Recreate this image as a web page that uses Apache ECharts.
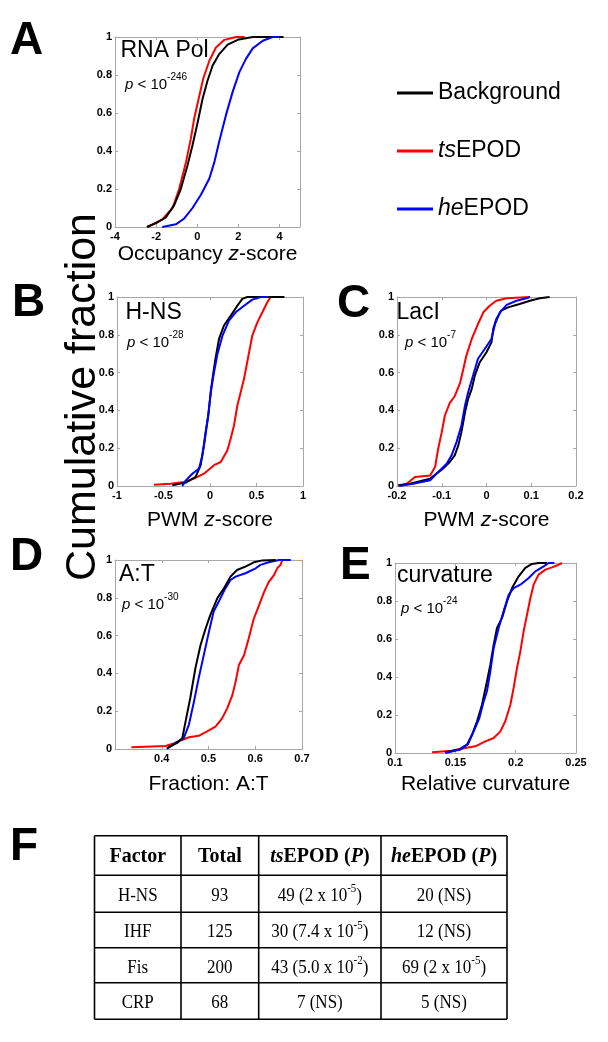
<!DOCTYPE html>
<html><head><meta charset="utf-8">
<script src="https://cdn.jsdelivr.net/npm/echarts@6/dist/echarts.min.js"></script>
<style>html,body{margin:0;padding:0;background:#fff}#c{width:608px;height:1042px}</style>
</head><body><div id="c"></div>
<script>
// ---------------- DATA ----------------
const seriesNames = ['Background', 'tsEPOD', 'heEPOD'];

// Panel A : RNA Pol, occupancy z-score
const polBackground = [[-2.45,0],[-2.0,0.02],[-1.53,0.05],[-1.12,0.115],[-0.8,0.2],[-0.47,0.325],[-0.23,0.43],[0.02,0.55],[0.26,0.675],[0.5,0.77],[0.75,0.85],[1.07,0.91],[1.48,0.96],[1.97,0.985],[2.7,1.0],[4.2,1.0]];
const polTs = [[-2.42,0],[-1.7,0.04],[-1.2,0.1],[-0.88,0.2],[-0.55,0.34],[-0.31,0.465],[-0.15,0.57],[0.07,0.675],[0.29,0.78],[0.59,0.875],[0.91,0.945],[1.32,0.985],[1.9,1.0],[2.3,1.0]];
const polHe = [[-1.7,0],[-1.04,0.014],[-0.63,0.045],[-0.23,0.1],[0.18,0.17],[0.59,0.255],[0.83,0.34],[1.07,0.45],[1.4,0.59],[1.72,0.71],[2.05,0.815],[2.37,0.885],[2.7,0.94],[3.19,0.98],[3.67,1.0],[4.0,1.0]];

// Panel B : H-NS, PWM z-score
const hnsBackground = [[-0.405,0.004],[-0.26,0.018],[-0.154,0.048],[-0.1,0.11],[-0.072,0.197],[-0.047,0.285],[-0.018,0.373],[0.007,0.496],[0.036,0.6],[0.061,0.68],[0.097,0.778],[0.15,0.849],[0.222,0.9],[0.294,0.954],[0.348,0.99],[0.4,1],[0.8,1]];
const hnsTs = [[-0.602,0.007],[-0.423,0.012],[-0.28,0.021],[-0.172,0.039],[-0.065,0.065],[0.043,0.11],[0.115,0.127],[0.186,0.188],[0.222,0.25],[0.258,0.32],[0.294,0.426],[0.33,0.496],[0.366,0.567],[0.4,0.655],[0.455,0.796],[0.509,0.866],[0.563,0.919],[0.616,0.972],[0.652,1],[0.7,1]];
const hnsHe = [[-0.297,0],[-0.26,0.03],[-0.19,0.065],[-0.118,0.092],[-0.082,0.162],[-0.054,0.25],[-0.02,0.373],[0.014,0.514],[0.043,0.6],[0.079,0.697],[0.133,0.794],[0.204,0.875],[0.276,0.919],[0.366,0.954],[0.455,0.986],[0.545,1],[0.62,1]];

// Panel C : LacI, PWM z-score
const laciBackground = [[-0.197,0.004],[-0.171,0.012],[-0.149,0.025],[-0.126,0.039],[-0.112,0.065],[-0.097,0.092],[-0.082,0.127],[-0.071,0.162],[-0.063,0.215],[-0.056,0.285],[-0.048,0.39],[-0.041,0.461],[-0.033,0.514],[-0.026,0.585],[-0.015,0.655],[0,0.708],[0.011,0.76],[0.015,0.83],[0.022,0.884],[0.033,0.928],[0.048,0.945],[0.074,0.963],[0.097,0.98],[0.119,0.993],[0.141,1]];
const laciTs = [[-0.197,0],[-0.178,0.012],[-0.16,0.048],[-0.126,0.056],[-0.115,0.1],[-0.108,0.197],[-0.1,0.285],[-0.093,0.373],[-0.082,0.44],[-0.071,0.475],[-0.059,0.546],[-0.052,0.616],[-0.045,0.69],[-0.033,0.778],[-0.019,0.857],[-0.007,0.919],[0.007,0.954],[0.022,0.98],[0.045,0.993],[0.097,1]];
const laciHe = [[-0.195,0],[-0.164,0.012],[-0.126,0.03],[-0.112,0.065],[-0.089,0.118],[-0.078,0.162],[-0.067,0.232],[-0.056,0.32],[-0.048,0.426],[-0.041,0.496],[-0.03,0.585],[-0.019,0.673],[-0.004,0.725],[0.011,0.778],[0.019,0.857],[0.03,0.919],[0.045,0.958],[0.067,0.98],[0.089,0.993],[0.097,1]];

// Panel D : A:T fraction
const atBackground = [[0.411,0.005],[0.433,0.032],[0.444,0.058],[0.451,0.146],[0.461,0.27],[0.472,0.428],[0.483,0.55],[0.494,0.639],[0.504,0.71],[0.519,0.798],[0.533,0.85],[0.547,0.912],[0.561,0.947],[0.579,0.965],[0.597,0.988],[0.615,0.998],[0.644,1]];
const atTs = [[0.335,0.009],[0.365,0.012],[0.408,0.016],[0.429,0.032],[0.458,0.062],[0.479,0.07],[0.497,0.093],[0.515,0.118],[0.529,0.162],[0.54,0.215],[0.551,0.285],[0.558,0.356],[0.565,0.444],[0.576,0.496],[0.586,0.585],[0.597,0.69],[0.608,0.76],[0.619,0.831],[0.629,0.884],[0.64,0.92],[0.647,0.956],[0.654,0.974],[0.658,1]];
const atHe = [[0.411,0],[0.429,0.032],[0.447,0.058],[0.458,0.128],[0.469,0.252],[0.479,0.375],[0.49,0.498],[0.501,0.621],[0.511,0.727],[0.522,0.78],[0.536,0.85],[0.547,0.894],[0.558,0.912],[0.579,0.93],[0.601,0.956],[0.611,0.974],[0.629,0.988],[0.651,1],[0.676,1]];

// Panel E : relative curvature
const curvBackground = [[0.1417,0.004],[0.1528,0.018],[0.1597,0.044],[0.1638,0.096],[0.168,0.167],[0.1721,0.254],[0.1762,0.377],[0.179,0.465],[0.1818,0.57],[0.1845,0.658],[0.1887,0.711],[0.1928,0.798],[0.197,0.868],[0.2025,0.93],[0.208,0.974],[0.2135,0.995],[0.219,1],[0.226,1]];
const curvTs = [[0.1307,0.004],[0.1472,0.012],[0.1583,0.026],[0.1666,0.035],[0.1749,0.061],[0.1818,0.079],[0.1873,0.114],[0.1914,0.167],[0.1956,0.254],[0.1983,0.342],[0.2011,0.447],[0.2039,0.535],[0.2066,0.64],[0.2094,0.728],[0.2122,0.816],[0.2149,0.886],[0.219,0.939],[0.2246,0.965],[0.2301,0.977],[0.2356,0.991],[0.2384,1]];
const curvHe = [[0.1417,0],[0.154,0.018],[0.1605,0.047],[0.1652,0.114],[0.1699,0.184],[0.1735,0.272],[0.1762,0.325],[0.179,0.43],[0.1818,0.553],[0.1859,0.658],[0.19,0.746],[0.1942,0.833],[0.1983,0.868],[0.2039,0.886],[0.2108,0.921],[0.2163,0.956],[0.2232,0.982],[0.2273,1],[0.232,1]];

// Panel labels / texts
const panelLetters = ['A', 'B', 'C', 'D', 'E', 'F'];
const factorLabels = ['RNA Pol', 'H-NS', 'LacI', 'A:T', 'curvature'];
const pExponents = ['-246', '-28', '-7', '-30', '-24'];
const xTitles = [['Occupancy ', 'z', '-score'], ['PWM ', 'z', '-score'], ['PWM ', 'z', '-score'], ['Fraction: A:T', '', ''], ['Relative curvature', '', '']];
const yTitle = 'Cumulative fraction';
const yTicks = {min: 0, max: 1, interval: 0.2};
const xTicks = [
  {min: -4, max: 5, interval: 2},
  {min: -1, max: 1, interval: 0.5},
  {min: -0.2, max: 0.2, interval: 0.1},
  {min: 0.3, max: 0.7, interval: 0.1},
  {min: 0.1, max: 0.25, interval: 0.05}
];

// Table F
const tableHeader = ['Factor', 'Total', 'tsEPOD (P)', 'heEPOD (P)'];
const tableFactors = ['H-NS', 'IHF', 'Fis', 'CRP'];
const tableTotals = [93, 125, 200, 68];
const tsCounts = [49, 30, 43, 7];
const tsPMant = ['2', '7.4', '5.0', null];
const tsPExp = ['-5', '-5', '-2', null];
const heCounts = [20, 12, 69, 5];
const hePMant = [null, null, '2', null];
const hePExp = [null, null, '-5', null];

// ---------------- LAYOUT ----------------
const SANS = '"Liberation Sans", Arial, Helvetica, sans-serif';
const SERIF = '"Liberation Serif", "Times New Roman", serif';
const GRAY = '#a8a8a8';
const COLORS = {Background: '#000000', tsEPOD: '#ff0000', heEPOD: '#0000ff'};

const panels = [
  {grid: {left: 115, top: 37, width: 185, height: 190}, data: {Background: polBackground, tsEPOD: polTs, heEPOD: polHe},
   order: ['tsEPOD','Background','heEPOD'], showMinX: true, showMaxX: false, nameGap: 17,
   letter: [10, 41], label: [120.5, 51], p: [125, 82]},
  {grid: {left: 117, top: 297, width: 186, height: 189}, data: {Background: hnsBackground, tsEPOD: hnsTs, heEPOD: hnsHe},
   order: ['tsEPOD','Background','heEPOD'], showMinX: true, showMaxX: true, nameGap: 24,
   letter: [12, 303.5], label: [125.5, 313], p: [127, 340]},
  {grid: {left: 397, top: 297, width: 179, height: 189}, data: {Background: laciBackground, tsEPOD: laciTs, heEPOD: laciHe},
   order: ['tsEPOD','Background','heEPOD'], showMinX: true, showMaxX: true, nameGap: 24,
   letter: [337, 304.5], label: [396.5, 313], p: [405, 340]},
  {grid: {left: 115, top: 560, width: 187, height: 189}, data: {Background: atBackground, tsEPOD: atTs, heEPOD: atHe},
   order: ['tsEPOD','heEPOD','Background'], showMinX: false, showMaxX: true, nameGap: 25,
   letter: [10, 557.5], label: [119, 575], p: [122, 602]},
  {grid: {left: 395, top: 563, width: 181, height: 190}, data: {Background: curvBackground, tsEPOD: curvTs, heEPOD: curvHe},
   order: ['tsEPOD','Background','heEPOD'], showMinX: true, showMaxX: true, nameGap: 21,
   letter: [340, 566.5], label: [397, 576], p: [401, 606]}
];

const grids = [], xAxes = [], yAxes = [], series = [], graphics = [];
const tickStyle = {inside: true, length: 3, lineStyle: {color: GRAY, width: 1}};
const lineStyleAx = {onZero: false, lineStyle: {color: GRAY, width: 1}};
const labelStyle = {color: '#000', fontWeight: 'bold', fontSize: 11, fontFamily: SANS};

panels.forEach((p, i) => {
  grids.push(Object.assign({containLabel: false, show: false}, p.grid));
  const xt = xTicks[i];
  const t = xTitles[i];
  const nm = t[1] ? `{n|${t[0]}}{i|${t[1]}}{n|${t[2]}}` : `{n|${t[0]}}`;
  xAxes.push({gridIndex: i, type: 'value', position: 'bottom', min: xt.min, max: xt.max, interval: xt.interval,
    axisLine: lineStyleAx, axisTick: tickStyle, splitLine: {show: false},
    axisLabel: Object.assign({margin: 4, showMinLabel: p.showMinX, showMaxLabel: p.showMaxX, hideOverlap: false}, labelStyle),
    name: nm, nameLocation: 'middle', nameGap: p.nameGap,
    nameTextStyle: {color: '#000', fontSize: 21, fontFamily: SANS,
      rich: {n: {fontSize: 21, fontFamily: SANS, color: '#000'}, i: {fontSize: 21, fontFamily: SANS, fontStyle: 'italic', color: '#000'}}}});
  xAxes.push({gridIndex: i, type: 'value', position: 'top', min: xt.min, max: xt.max, interval: xt.interval,
    axisLine: lineStyleAx, axisTick: tickStyle, splitLine: {show: false}, axisLabel: {show: false}});
  yAxes.push({gridIndex: i, type: 'value', position: 'left', min: yTicks.min, max: yTicks.max, interval: yTicks.interval,
    axisLine: lineStyleAx, axisTick: tickStyle, splitLine: {show: false},
    axisLabel: Object.assign({margin: 3}, labelStyle)});
  yAxes.push({gridIndex: i, type: 'value', position: 'right', min: yTicks.min, max: yTicks.max, interval: yTicks.interval,
    axisLine: lineStyleAx, axisTick: tickStyle, splitLine: {show: false}, axisLabel: {show: false}});

  p.order.forEach((name, k) => {
    series.push({type: 'line', name: name, xAxisIndex: 2 * i, yAxisIndex: 2 * i, data: p.data[name],
      symbol: 'none', showSymbol: false, z: 2 + k, silent: true,
      lineStyle: {color: COLORS[name], width: 2}, itemStyle: {color: COLORS[name]}});
  });

  // panel letter
  graphics.push({type: 'text', x: p.letter[0], y: p.letter[1], silent: true,
    style: {text: panelLetters[i], fontSize: 46, fontWeight: 'bold', fontFamily: SANS, fill: '#000', textAlign: 'left', textVerticalAlign: 'middle'}});
  // factor label
  graphics.push({type: 'text', x: p.label[0], y: p.label[1], silent: true,
    style: {text: factorLabels[i], fontSize: 23, fontFamily: SANS, fill: '#000', textAlign: 'left', textVerticalAlign: 'middle'}});
  // p-value
  graphics.push({type: 'text', x: p.p[0], y: p.p[1], silent: true,
    style: {text: `{p|p}{t| < 10}{s|${pExponents[i]}}`, textAlign: 'left', textVerticalAlign: 'middle', fill: '#000',
      rich: {p: {fontSize: 15, fontStyle: 'italic', fontFamily: SANS, fill: '#000', verticalAlign: 'bottom', lineHeight: 20},
             t: {fontSize: 15, fontFamily: SANS, fill: '#000', verticalAlign: 'bottom', lineHeight: 20},
             s: {fontSize: 10, fontFamily: SANS, fill: '#000', verticalAlign: 'top', lineHeight: 12}}}});
});

// y-axis title (shared)
graphics.push({type: 'text', x: 83, y: 397, rotation: Math.PI / 2, silent: true,
  style: {text: yTitle, fontSize: 43, fontFamily: SANS, fill: '#000', textAlign: 'center', textVerticalAlign: 'middle'}});
// panel F letter
graphics.push({type: 'text', x: 10, y: 847.5, silent: true,
  style: {text: panelLetters[5], fontSize: 46, fontWeight: 'bold', fontFamily: SANS, fill: '#000', textAlign: 'left', textVerticalAlign: 'middle'}});

// ---------------- TABLE F ----------------
const colX = [94.5, 181, 258.7, 381, 507];
const rowY = [835.7, 875.3, 912.3, 947.7, 982.7, 1019.3];
colX.forEach(x => graphics.push({type: 'line', silent: true, shape: {x1: x, y1: rowY[0], x2: x, y2: rowY[rowY.length - 1]}, style: {stroke: '#000', lineWidth: 1.6}}));
rowY.forEach(y => graphics.push({type: 'line', silent: true, shape: {x1: colX[0], y1: y, x2: colX[colX.length - 1], y2: y}, style: {stroke: '#000', lineWidth: 1.6}}));

const serifRich = {
  n: {fontSize: 17, fontFamily: SERIF, fill: '#000', verticalAlign: 'bottom', lineHeight: 20},
  s: {fontSize: 11, fontFamily: SERIF, fill: '#000', verticalAlign: 'top', lineHeight: 14},
  b: {fontSize: 20, fontFamily: SERIF, fontWeight: 'bold', fill: '#000'},
  bi: {fontSize: 20, fontFamily: SERIF, fontWeight: 'bold', fontStyle: 'italic', fill: '#000'}
};
function cellText(x, y, text, sy) {
  graphics.push({type: 'text', x: x, y: y, scaleY: sy || 1.15, silent: true,
    style: {text: text, rich: serifRich, textAlign: 'center', textVerticalAlign: 'middle', fill: '#000'}});
}
const colC = colX.slice(0, 4).map((x, k) => (x + colX[k + 1]) / 2);
const headY = 856.5;
cellText(colC[0], headY, `{b|${tableHeader[0]}}`, 1.1);
cellText(colC[1], headY, `{b|${tableHeader[1]}}`, 1.1);
cellText(colC[2], headY, `{bi|ts}{b|EPOD (}{bi|P}{b|)}`, 1.1);
cellText(colC[3], headY, `{bi|he}{b|EPOD (}{bi|P}{b|)}`, 1.1);
const bodyY = [894, 930.5, 966, 1001.5];
function pStr(count, mant, exp) {
  return mant ? `{n|${count} (${mant} x 10}{s|${exp}}{n|)}` : `{n|${count} (NS)}`;
}
tableFactors.forEach((f, r) => {
  cellText(colC[0], bodyY[r], `{n|${f}}`);
  cellText(colC[1], bodyY[r], `{n|${tableTotals[r]}}`);
  cellText(colC[2], bodyY[r], pStr(tsCounts[r], tsPMant[r], tsPExp[r]));
  cellText(colC[3], bodyY[r], pStr(heCounts[r], hePMant[r], hePExp[r]));
});

// ---------------- CHART ----------------
const chart = echarts.init(document.getElementById('c'), null, {renderer: 'canvas'});
chart.setOption({
  animation: false,
  backgroundColor: '#fff',
  grid: grids,
  xAxis: xAxes,
  yAxis: yAxes,
  legend: {
    orient: 'vertical', left: 392, top: 75, icon: 'rect', itemWidth: 36, itemHeight: 3, itemGap: 32,
    data: seriesNames, selectedMode: false,
    textStyle: {fontSize: 23, fontFamily: SANS, color: '#000', lineHeight: 26,
      rich: {n: {fontSize: 23, fontFamily: SANS, color: '#000'}, i: {fontSize: 23, fontFamily: SANS, fontStyle: 'italic', color: '#000'}}},
    formatter: name => name === 'Background' ? '{n|Background}' : name === 'tsEPOD' ? '{i|ts}{n|EPOD}' : '{i|he}{n|EPOD}'
  },
  series: series,
  graphic: graphics
});
</script></body></html>
